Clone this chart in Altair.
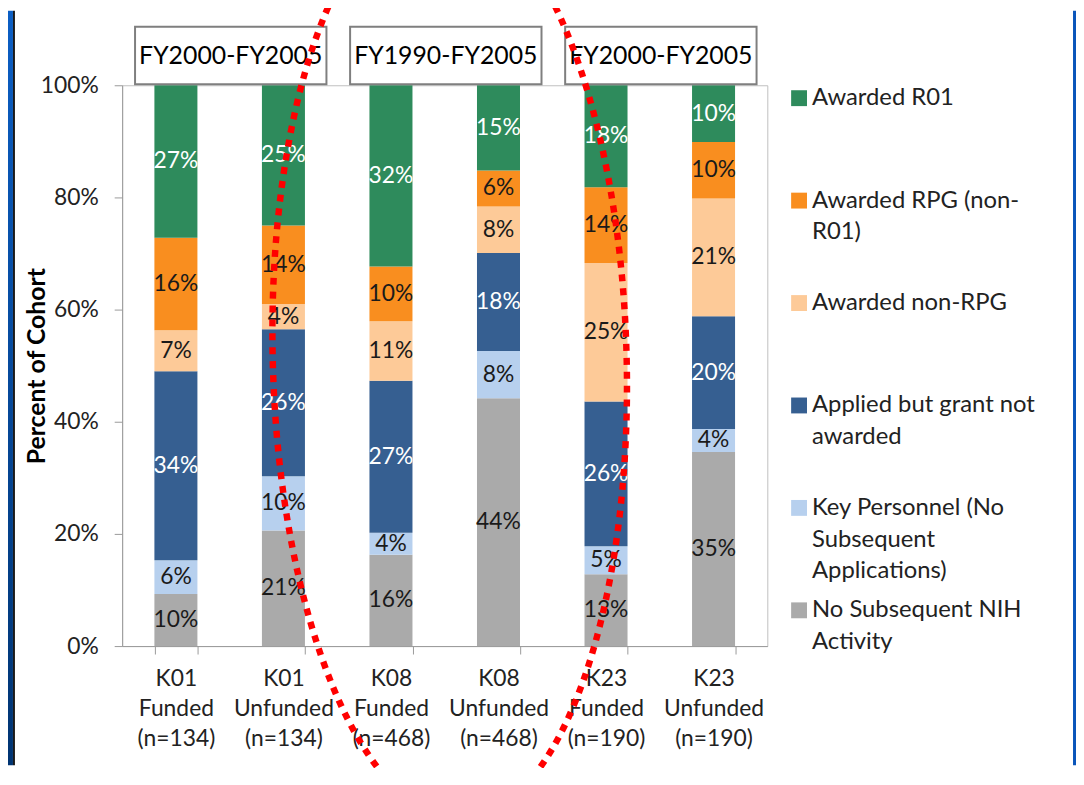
import altair as alt
import pandas as pd

# ---------------- data ----------------
categories = [
    "K01 Funded (n=134)", "K01 Unfunded (n=134)",
    "K08 Funded (n=468)", "K08 Unfunded (n=468)",
    "K23 Funded (n=190)", "K23 Unfunded (n=190)",
]
# series listed bottom -> top of each stack
series = [
    "No Subsequent NIH Activity",
    "Key Personnel (No Subsequent Applications)",
    "Applied but grant not awarded",
    "Awarded non-RPG",
    "Awarded RPG (non-R01)",
    "Awarded R01",
]
series_colors = ["#AAAAAA", "#B7D0EE", "#365F91", "#FDCA98", "#F98E1F", "#2E8B5C"]
label_colors = ["#1A1A1A", "#1A1A1A", "#FFFFFF", "#1A1A1A", "#1A1A1A", "#FFFFFF"]

# segment heights (percent of cohort)
no_activity   = [9.3, 20.6, 16.3, 44.2, 12.8, 34.6]
key_personnel = [6.0, 9.7, 3.9, 8.4, 5.0, 4.1]
applied       = [33.7, 26.2, 27.1, 17.5, 25.8, 20.1]
non_rpg       = [7.3, 4.5, 10.6, 8.3, 24.7, 21.0]
rpg_non_r01   = [16.5, 14.0, 9.8, 6.4, 13.5, 10.1]
r01           = [27.2, 25.0, 32.3, 15.2, 18.2, 10.1]

# printed data labels
no_activity_lbl   = [10, 21, 16, 44, 13, 35]
key_personnel_lbl = [6, 10, 4, 8, 5, 4]
applied_lbl       = [34, 26, 27, 18, 26, 20]
non_rpg_lbl       = [7, 4, 11, 8, 25, 21]
rpg_non_r01_lbl   = [16, 14, 10, 6, 14, 10]
r01_lbl           = [27, 25, 32, 15, 18, 10]

# legend (top -> bottom), '|' marks a line break
legend_series = ["Awarded R01", "Awarded RPG (non-R01)", "Awarded non-RPG",
                 "Applied but grant not awarded",
                 "Key Personnel (No Subsequent Applications)",
                 "No Subsequent NIH Activity"]
legend_text = ["Awarded R01", "Awarded RPG (non-|R01)", "Awarded non-RPG",
               "Applied but grant not|awarded",
               "Key Personnel (No|Subsequent|Applications)",
               "No Subsequent NIH|Activity"]

# header boxes over pairs of bars
header_text = ["FY2000-FY2005", "FY1990-FY2005", "FY2000-FY2005"]
header_first = [0, 2, 4]
header_last = [1, 3, 5]

# ---------------- tables ----------------
values = [no_activity, key_personnel, applied, non_rpg, rpg_non_r01, r01]
labels = [no_activity_lbl, key_personnel_lbl, applied_lbl, non_rpg_lbl, rpg_non_r01_lbl, r01_lbl]
rows = []
for si, s in enumerate(series):
    for ci, c in enumerate(categories):
        rows.append({"cat": c, "series": s, "order": si, "value": values[si][ci],
                     "label": f"{labels[si][ci]}%", "lcolor": label_colors[si]})
df = pd.DataFrame(rows)

leg_df = pd.DataFrame({"series": legend_series, "text": legend_text,
                       "rank": list(range(len(legend_series)))})
hdr_df = pd.DataFrame({"text": header_text, "first": header_first, "last": header_last})

W, H = 650, 565
FONT = "Lato"
AX = "#9A9A9A"
TXT = "#222222"

color_scale = alt.Scale(domain=series, range=series_colors)

base = alt.Chart(df).transform_stack(
    stack="value", groupby=["cat"],
    sort=[alt.SortField("order", order="ascending")], as_=["y0", "y1"]
).transform_calculate(ymid="(datum.y0 + datum.y1) / 2")

x_enc = alt.X("cat:N", sort=categories,
              scale=alt.Scale(paddingInner=0.6, paddingOuter=0.3),
              axis=alt.Axis(title=None, labelAngle=0, labelExpr="split(datum.label, ' ')",
                            labelFontSize=23, labelLineHeight=30, labelColor=TXT,
                            labelPadding=14, tickBand="extent", tickSize=8,
                            tickColor=AX, domainColor=AX, labelBaseline="top"))
y_enc = alt.Y("y0:Q", scale=alt.Scale(domain=[0, 100], nice=False),
              axis=alt.Axis(values=[0, 20, 40, 60, 80, 100], labelExpr="datum.value + '%'",
                            grid=False, tickSize=8, tickColor=AX, domainColor=AX,
                            labelFontSize=23, labelColor=TXT, labelPadding=16,
                            title="Percent of Cohort", titleFontSize=25,
                            titleFontWeight="bold", titleColor="#000000",
                            titleX=-86, titleY=H / 2, titleAngle=270,
                            titleAlign="center", titleBaseline="middle"))

bars = base.mark_bar(stroke=None).encode(
    x=x_enc, y=y_enc, y2="y1:Q",
    color=alt.Color("series:N", scale=color_scale, legend=None),
)
bar_labels = base.mark_text(fontSize=23, baseline="middle").encode(
    x=alt.X("cat:N", sort=categories),
    y=alt.Y("ymid:Q"),
    text="label:N",
    color=alt.Color("lcolor:N", scale=None),
)
main = alt.layer(bars, bar_labels)

# header boxes
hbase = alt.Chart(hdr_df).transform_calculate(
    x0="datum.first + 0.12", x1="datum.last + 0.9", xm="(datum.first + datum.last + 1.02) / 2")
hx = alt.Scale(domain=[0, len(categories)], nice=False, zero=False)
hrect = hbase.mark_rect(fill="white", stroke="#7F7F7F", strokeWidth=2).encode(
    x=alt.X("x0:Q", scale=hx, axis=None), x2="x1:Q",
    y=alt.value(-59), y2=alt.value(-1))
htext = hbase.mark_text(fontSize=25, color="#000000", baseline="middle").encode(
    x=alt.X("xm:Q", scale=hx, axis=None), y=alt.value(-29), text="text:N")
headers = alt.layer(hrect, htext)

# legend built from marks
ly = alt.Scale(domain=[0, len(legend_series) - 1], range=[13, 529], nice=False, zero=False)
lsq = alt.Chart(leg_df).mark_square(size=256, opacity=1, filled=True).encode(
    x=alt.value(682), y=alt.Y("rank:Q", scale=ly, axis=None),
    color=alt.Color("series:N", scale=color_scale, legend=None))
ltx = alt.Chart(leg_df).mark_text(align="left", baseline="top", dy=-12, lineBreak="|",
                                  lineHeight=32, fontSize=24, color=TXT).encode(
    x=alt.value(695), y=alt.Y("rank:Q", scale=ly, axis=None), text="text:N")
legend = alt.layer(lsq, ltx)

# slide frame strips (blue edge of the slide)
grad = alt.Gradient(gradient="linear", x1=0, y1=0, x2=0, y2=1,
                    stops=[alt.GradientStop(color="#0B5EC4", offset=0),
                           alt.GradientStop(color="#003472", offset=1)])
one = pd.DataFrame({"k": [0]})
frame_l = alt.Chart(one).mark_rect(color=grad).encode(
    x=alt.value(-115), x2=alt.value(-110), y=alt.value(-75), y2=alt.value(H + 120))
frame_l2 = alt.Chart(one).mark_rect(color="#1A1A1A").encode(
    x=alt.value(-110), x2=alt.value(-108), y=alt.value(-75), y2=alt.value(H + 120))
frame_r = alt.Chart(one).mark_rect(color="#0A55BA").encode(
    x=alt.value(W + 308), x2=alt.value(W + 311), y=alt.value(-75), y2=alt.value(H + 120))

# red dotted ellipse annotation
ellipse = alt.Chart(one).mark_point(
    shape="M0,-1 A0.385,1 0 1,1 0,1 A0.385,1 0 1,1 0,-1 Z",
    size=926 ** 2, filled=False, opacity=1, stroke="#FF0000", angle=358.5,
    strokeWidth=6.5, strokeDash=[7, 7]).encode(
    x=alt.value(330), y=alt.value(276))

chart = alt.layer(frame_l, frame_l2, frame_r, main, headers, legend, ellipse).resolve_scale(
    x="independent", y="independent", color="independent"
).properties(
    width=W, height=H,
    padding={"left": 115, "top": 75, "right": 311, "bottom": 120},
    autosize=alt.AutoSizeParams(type="none"),
).configure(font=FONT, background="white").configure_view(
    stroke="#BFBFBF", strokeWidth=1)

chart.save("out.html", embed_options={"renderer": "svg", "actions": False})
